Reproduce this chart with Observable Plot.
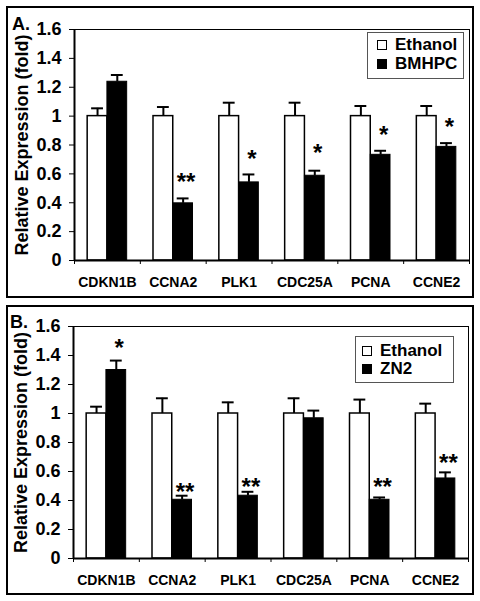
<!DOCTYPE html>
<html><head><meta charset="utf-8">
<script src="https://cdn.jsdelivr.net/npm/d3@7"></script>
<script src="https://cdn.jsdelivr.net/npm/@observablehq/plot@0.6"></script>
<style>
body{margin:0;background:#fff;font-family:"Liberation Sans",Arial,sans-serif;font-weight:bold;color:#000;}
.panel{position:absolute;left:6px;width:468px;border:2px solid #000;box-sizing:border-box;background:#fff;overflow:hidden;}
.panel svg{display:block;position:absolute;left:0;top:0;}
.letter{position:absolute;font-size:18px;line-height:18px;font-weight:bold;white-space:nowrap;}
.legend{position:absolute;border:1px solid #555;background:#fff;box-sizing:border-box;}
.row{position:absolute;font-size:17px;line-height:17px;white-space:nowrap;}
.sw{display:inline-block;width:10px;height:10px;border:1.5px solid #000;box-sizing:border-box;margin-right:8px;vertical-align:baseline;}
</style></head><body>
<div id="A" class="panel" style="top:6px;height:292px"></div>
<div id="B" class="panel" style="top:305px;height:290px"></div>
<script>
// ---- data ----
const genes = ["CDKN1B", "CCNA2", "PLK1", "CDC25A", "PCNA", "CCNE2"];
const yTicks = [0, 0.2, 0.4, 0.6, 0.8, 1, 1.2, 1.4, 1.6];
const yLabel = "Relative Expression (fold)";
const controlName = "Ethanol";

// Panel A: Ethanol vs BMHPC
const ethanolA = [1, 1, 1, 1, 1, 1];
const ethanolErrA = [0.054, 0.063, 0.093, 0.093, 0.070, 0.070];
const bmhpcA = [1.238, 0.396, 0.541, 0.587, 0.732, 0.787];
const bmhpcErrA = [0.047, 0.034, 0.055, 0.035, 0.028, 0.026];
const starsA = ["", "**", "*", "*", "*", "*"];
const starYA = [null, 0.564, 0.725, 0.760, 0.886, 0.944];

// Panel B: Ethanol vs ZN2
const ethanolB = [1, 1, 1, 1, 1, 1];
const ethanolErrB = [0.047, 0.105, 0.077, 0.105, 0.096, 0.068];
const zn2B = [1.30, 0.405, 0.433, 0.967, 0.405, 0.552];
const zn2ErrB = [0.065, 0.028, 0.027, 0.053, 0.016, 0.042];
const starsB = ["*", "**", "**", "", "**", "**"];
const starYB = [1.469, 0.479, 0.513, null, 0.513, 0.674];

function drawPanel(o) {
  const rows = genes.map((g, i) => ({
    i, g,
    e: o.ethanol[i], ee: o.ethanol[i] + o.ethErr[i],
    t: o.trt[i], te: o.trt[i] + o.trtErr[i],
    s: o.stars[i], sy: o.starY[i]
  }));
  const cap = 0.09;
  const chart = Plot.plot({
    width: o.width, height: o.height,
    marginTop: o.mt, marginBottom: o.mb, marginLeft: o.ml, marginRight: o.mr,
    style: {fontFamily: "Liberation Sans, Arial, sans-serif", fontWeight: "bold", color: "#000", background: "transparent"},
    x: {domain: [0, genes.length]},
    y: {domain: [0, 1.6]},
    marks: [
      Plot.rect(rows, {x1: d => d.i + 0.2, x2: d => d.i + 0.5, y1: 0, y2: "e", fill: "#fff", stroke: "#000", strokeWidth: 1.5}),
      Plot.rect(rows, {x1: d => d.i + 0.5, x2: d => d.i + 0.8, y1: 0, y2: "t", fill: "#000", stroke: "#000", strokeWidth: 1}),
      Plot.ruleX(rows, {x: d => d.i + 0.35, y1: "e", y2: "ee", stroke: "#000", strokeWidth: 2}),
      Plot.ruleY(rows, {y: "ee", x1: d => d.i + 0.35 - cap, x2: d => d.i + 0.35 + cap, stroke: "#000", strokeWidth: 2}),
      Plot.ruleX(rows, {x: d => d.i + 0.65, y1: "t", y2: "te", stroke: "#000", strokeWidth: 2}),
      Plot.ruleY(rows, {y: "te", x1: d => d.i + 0.65 - cap, x2: d => d.i + 0.65 + cap, stroke: "#000", strokeWidth: 2}),
      Plot.text(rows.filter(d => d.s), {x: d => d.i + 0.65, y: "sy", text: "s", fontSize: 24, dy: 3, dx: 3, lineAnchor: "middle", fill: "#000"}),
      Plot.frame({stroke: "#000", strokeWidth: 1}),
      Plot.ruleX([0], {stroke: "#000", strokeWidth: 2}),
      Plot.ruleY([0], {stroke: "#000", strokeWidth: 2}),
      Plot.axisY({ticks: yTicks, tickSize: 5, tickPadding: 8, fontSize: 18, tickFormat: d => String(d), label: null}),
      Plot.axisX({ticks: d3.range(genes.length + 1), tickSize: 4, tickFormat: () => "", label: null}),
      Plot.axisX({ticks: genes.map((g, i) => i + 0.5), tickSize: 0, tickPadding: 17, fontSize: 14, tickFormat: v => genes[Math.floor(v)], label: null}),
      Plot.text([yLabel], {frameAnchor: "left", textAnchor: "middle", rotate: -90, dx: -52, fontSize: 18, lineAnchor: "middle", fill: "#000"})
    ]
  });
  const host = document.getElementById(o.id);
  host.appendChild(chart);

  const letter = document.createElement("div");
  letter.className = "letter";
  letter.textContent = o.letter;
  letter.style.left = o.letterPos[0] + "px";
  letter.style.top = o.letterPos[1] + "px";
  host.appendChild(letter);

  const lg = document.createElement("div");
  lg.className = "legend";
  lg.style.left = o.legend.x + "px";
  lg.style.top = o.legend.y + "px";
  lg.style.width = o.legend.w + "px";
  lg.style.height = o.legend.h + "px";
  [[controlName, "#fff"], [o.trtName, "#000"]].forEach(([name, fill], k) => {
    const r = document.createElement("div");
    r.className = "row";
    r.style.left = o.legend.rx + "px";
    r.style.top = o.legend.ry[k] + "px";
    const sw = document.createElement("span");
    sw.className = "sw";
    sw.style.background = fill;
    r.appendChild(sw);
    r.appendChild(document.createTextNode(name));
    lg.appendChild(r);
  });
  host.appendChild(lg);
}

drawPanel({
  id: "A", width: 464, height: 288, mt: 21, mb: 36, ml: 66, mr: 3,
  ethanol: ethanolA, ethErr: ethanolErrA, trt: bmhpcA, trtErr: bmhpcErrA,
  stars: starsA, starY: starYA, trtName: "BMHPC", letter: "A.",
  letterPos: [4, 7],
  legend: {x: 359, y: 24, w: 97, h: 47, rx: 9, ry: [3, 22]}
});
drawPanel({
  id: "B", width: 464, height: 286, mt: 19, mb: 35, ml: 65, mr: 4,
  ethanol: ethanolB, ethErr: ethanolErrB, trt: zn2B, trtErr: zn2ErrB,
  stars: starsB, starY: starYB, trtName: "ZN2", letter: "B.",
  letterPos: [2, 6],
  legend: {x: 347, y: 29, w: 99, h: 47, rx: 6, ry: [5, 23]}
});
</script>
</body></html>
